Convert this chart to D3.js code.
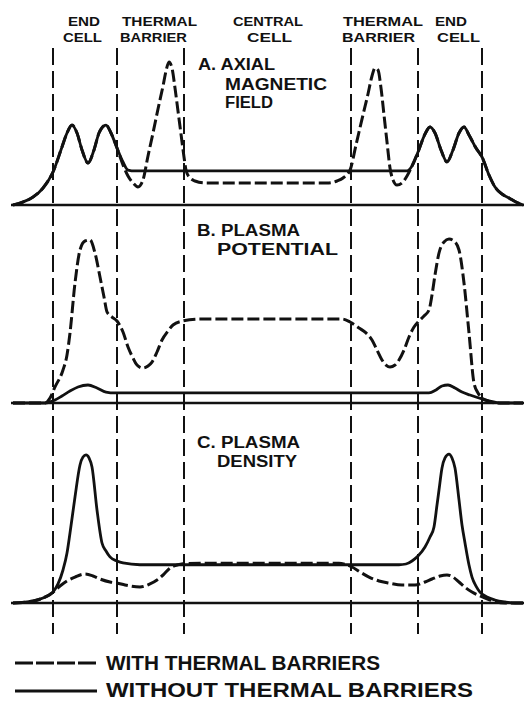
<!DOCTYPE html>
<html>
<head>
<meta charset="utf-8">
<script src="https://cdn.jsdelivr.net/npm/d3@7"></script>
<style>
  html, body { margin: 0; padding: 0; background: #fff; }
  svg { display: block; }
  text { font-family: "Liberation Sans", Arial, sans-serif; font-weight: bold; fill: #111; }
</style>
</head>
<body>
<svg id="chart" width="524" height="702"></svg>
<script>
// ---------------------------------------------
// data: axial position z (centre = 0), value per panel (0..10 arb. units)
// ---------------------------------------------
const boundaries = [-43, -30.2, -16.8, 16.6, 30, 42.8];

const zoneNames = [
  ["END", "CELL"], ["THERMAL", "BARRIER"], ["CENTRAL", "CELL"],
  ["THERMAL", "BARRIER"], ["END", "CELL"]
];
const panelNames = [
  ["A. AXIAL", "MAGNETIC", "FIELD"],
  ["B. PLASMA", "POTENTIAL"],
  ["C. PLASMA", "DENSITY"]
];
const legendNames = ["WITH THERMAL BARRIERS", "WITHOUT THERMAL BARRIERS"];

// A. axial magnetic field
const fieldWithout = [
  [-51,0],[-49,0.2],[-47,0.53],[-45,1.13],[-43,2.2],[-41.2,3.87],[-40.2,4.8],[-39.2,5.33],
  [-38.2,4.8],[-37.2,3.67],[-36,2.8],[-34.8,3.67],[-33.8,4.8],[-32.4,5.33],[-31.4,4.8],
  [-30.2,3.8],[-29,2.87],[-28,2.33],[-26.6,2.27],[27.8,2.27],[28.8,2.6],[30,3.53],
  [31.4,4.73],[32.4,5.2],[33.4,4.8],[34.6,3.67],[35.8,2.87],[37,3.67],[38.2,4.8],
  [39.2,5.2],[40.2,4.67],[41.6,3.8],[42.8,3.2],[44.2,2],[45.4,1.2],[46.8,0.73],
  [48.2,0.47],[49.6,0.2],[51,0]
];
const fieldWith = [
  [-51,0],[-49,0.2],[-47,0.53],[-45,1.13],[-43,2.2],[-41.2,3.87],[-40.2,4.8],[-39.2,5.33],
  [-38.2,4.8],[-37.2,3.67],[-36,2.8],[-34.8,3.67],[-33.8,4.8],[-32.4,5.33],[-31.4,4.8],
  [-30.2,3.8],[-29,2.67],[-28,1.93],[-27,1.47],[-26,1.2],[-25,1.67],[-24,3.27],[-23,4.8],
  [-22,6.4],[-21,7.93],[-20.4,8.93],[-19.8,9.53],[-19.2,9.13],[-18.6,7.8],[-18,6.27],
  [-17.4,4.73],[-16.8,3.2],[-16.4,2.33],[-15.8,1.87],[-14.6,1.6],[-12.6,1.47],
  [12.2,1.47],[13.8,1.6],[15,1.8],[16.4,2.33],[17.6,4],[18.8,5.73],[20,7.4],[20.8,8.6],
  [21.4,9.13],[22,9],[22.6,7.8],[23.2,6],[23.8,4.2],[24.4,2.47],[25,1.67],[25.8,1.33],
  [26.8,1.47],[27.8,1.93],[28.8,2.6],[30,3.53],[31.4,4.73],[32.4,5.2],[33.4,4.8],
  [34.6,3.67],[35.8,2.87],[37,3.67],[38.2,4.8],[39.2,5.2],[40.2,4.67],[41.6,3.8],
  [42.8,3.2],[44.2,2],[45.4,1.2],[46.8,0.73],[48.2,0.47],[49.6,0.2],[51,0]
];

// B. plasma potential
const potentialWithout = [
  [-51,0],[-44.6,0],[-43.6,0.07],[-42.6,0.2],[-41.2,0.47],[-39.6,0.8],[-38,1.07],[-36,1.2],
  [-34.2,1],[-32.4,0.73],[-30.6,0.67],[-28.6,0.67],[32.2,0.67],[33.6,0.87],[34.8,1.13],
  [36,1.2],[37.4,1],[38.8,0.73],[40.4,0.53],[42.8,0.27],[44.4,0.13],[46.4,0],[51,0]
];
const potentialWith = [
  [-51,0],[-44.6,0],[-43.6,0.33],[-42.6,1.07],[-41,2.2],[-40.2,3.2],[-39.6,4.67],[-38.6,8],
  [-37.6,10.2],[-36.6,10.8],[-35.6,10.87],[-34.6,10],[-33.6,8.4],[-32.8,7.07],[-32.2,6.07],
  [-31.2,5.73],[-30.2,5.47],[-29,4.73],[-28,3.73],[-27,3],[-26.2,2.53],[-25,2.33],
  [-24,2.47],[-23.2,2.73],[-22.2,3.4],[-21.2,4.2],[-20,4.8],[-19,5.2],[-17,5.47],
  [-13.6,5.6],[14.8,5.6],[16.4,5.4],[18.2,5],[19.6,4.67],[20.8,4.2],[21.8,3.53],
  [22.8,2.87],[23.6,2.53],[24.4,2.4],[25.4,2.53],[26.2,2.87],[27.2,3.53],[28.2,4.4],
  [29.2,5.07],[30,5.4],[31.2,5.8],[32.2,6.2],[32.8,7.2],[33.4,8.53],[34.2,10],[35.2,10.73],
  [36.2,10.93],[37.2,10.8],[38.2,10.2],[39.2,8],[40.2,4.67],[41.2,1.33],[42,0.67],
  [42.8,0.33],[44,0.13],[45.4,0],[51,0]
];

// C. plasma density
const densityWithout = [
  [-51,0],[-47,0.13],[-45,0.33],[-43,0.73],[-42,1.27],[-41,2.2],[-40.2,3.33],[-39.6,4.67],
  [-38.6,7.07],[-37.6,9.2],[-37,9.73],[-36.4,9.87],[-35.8,9.67],[-35.2,9.07],[-34.2,6.2],
  [-33.2,4],[-32.4,3.47],[-31.6,3.07],[-30.2,2.8],[-29,2.67],[-25.6,2.55],[26.2,2.55],
  [27.6,2.6],[28.8,2.8],[30,3.13],[31.4,3.73],[32.4,4.4],[33.2,5.07],[33.8,6.53],
  [34.2,7.53],[34.8,9],[35.4,9.67],[36.2,9.93],[36.8,9.67],[37.4,9],[38.2,6.87],
  [38.8,5.2],[39.4,4],[40.2,2.53],[40.8,1.73],[41.6,1.13],[42.4,0.73],[43.8,0.4],
  [45.4,0.2],[47.4,0.07],[49.4,0],[51,0]
];
const densityWith = [
  [-51,0],[-47,0.13],[-45,0.33],[-43.2,0.67],[-41.6,1.13],[-40.2,1.47],[-38.6,1.73],
  [-36.6,1.93],[-35,1.8],[-33.6,1.6],[-31.6,1.4],[-30.2,1.33],[-28.6,1.2],[-25.6,1.07],
  [-23.6,1.27],[-22.2,1.53],[-20.8,1.93],[-19.6,2.33],[-18.2,2.53],[-17,2.62],[-13.6,2.65],
  [14.2,2.65],[15.4,2.58],[16.8,2.4],[18.4,2.07],[20.2,1.73],[22.2,1.47],[24.2,1.33],
  [26.8,1.2],[29.4,1.2],[31.4,1.4],[32.8,1.6],[34.4,1.8],[35.8,1.87],[37,1.73],[38.2,1.4],
  [39.6,1],[40.8,0.73],[42.4,0.47],[44.4,0.2],[47.4,0],[51,0]
];

const panels = [
  { base: 205, withTB: fieldWith,     withoutTB: fieldWithout },
  { base: 403, withTB: potentialWith, withoutTB: potentialWithout },
  { base: 603, withTB: densityWith,   withoutTB: densityWithout }
];

// ---------------------------------------------
// layout
// ---------------------------------------------
const svg = d3.select("#chart");
const x = d3.scaleLinear().domain([-51, 51]).range([13, 523]);

const ink = "#111";
const dashCurve = "12,4";

// zone label lines: [x start, width] for each line
const zoneLayout = [
  [[68, 32], [63, 39]],
  [[122, 75], [120, 67]],
  [[233, 70], [247, 45]],
  [[343, 80], [342, 73]],
  [[435, 32], [437, 43]]
];
const zoneBaselines = [26, 42];

// panel label lines: [x, baseline, width]
const panelLayout = [
  [[198, 70, 77], [225, 90, 102], [225, 108, 48]],
  [[197, 236, 103], [217, 255, 121]],
  [[197, 448, 103], [217, 467, 80]]
];

// vertical zone boundaries
svg.append("g")
  .selectAll("line")
  .data(boundaries)
  .join("line")
    .attr("x1", d => x(d)).attr("x2", d => x(d))
    .attr("y1", 48).attr("y2", 634)
    .attr("stroke", ink)
    .attr("stroke-width", 2)
    .attr("stroke-dasharray", "17,6");

// zone names at the top
zoneNames.forEach((lines, i) => {
  lines.forEach((t, j) => {
    const [lx, w] = zoneLayout[i][j];
    svg.append("text")
      .attr("x", lx).attr("y", zoneBaselines[j])
      .attr("font-size", 13)
      .attr("textLength", w)
      .attr("lengthAdjust", "spacingAndGlyphs")
      .text(t);
  });
});

// panels
panels.forEach((p, i) => {
  const y = d3.scaleLinear().domain([0, 10]).range([p.base, p.base - 150]);
  const line = d3.line()
    .x(d => x(d[0]))
    .y(d => y(d[1]))
    .curve(d3.curveMonotoneX);

  const g = svg.append("g");

  // baseline
  g.append("line")
    .attr("x1", 11).attr("x2", 524)
    .attr("y1", y(0)).attr("y2", y(0))
    .attr("stroke", ink)
    .attr("stroke-width", 2.6);

  g.append("path")
    .attr("d", line(p.withoutTB))
    .attr("fill", "none")
    .attr("stroke", ink)
    .attr("stroke-width", 2.8)
    .attr("stroke-linejoin", "round");

  g.append("path")
    .attr("d", line(p.withTB))
    .attr("fill", "none")
    .attr("stroke", ink)
    .attr("stroke-width", 3)
    .attr("stroke-dasharray", dashCurve);

  panelNames[i].forEach((t, j) => {
    const [lx, ly, w] = panelLayout[i][j];
    g.append("text")
      .attr("x", lx).attr("y", ly)
      .attr("font-size", 16)
      .attr("textLength", w)
      .attr("lengthAdjust", "spacingAndGlyphs")
      .text(t);
  });
});

// legend
const legend = svg.append("g");
const legendRows = [
  { y: 663, base: 670, w: 274, dash: "18,3" },
  { y: 691, base: 697, w: 367, dash: null }
];
legendNames.forEach((t, i) => {
  const r = legendRows[i];
  legend.append("line")
    .attr("x1", 15).attr("x2", 97)
    .attr("y1", r.y).attr("y2", r.y)
    .attr("stroke", ink)
    .attr("stroke-width", 3)
    .attr("stroke-dasharray", r.dash);
  legend.append("text")
    .attr("x", 106).attr("y", r.base)
    .attr("font-size", 20)
    .attr("textLength", r.w)
    .attr("lengthAdjust", "spacingAndGlyphs")
    .text(t);
});
</script>
</body>
</html>
